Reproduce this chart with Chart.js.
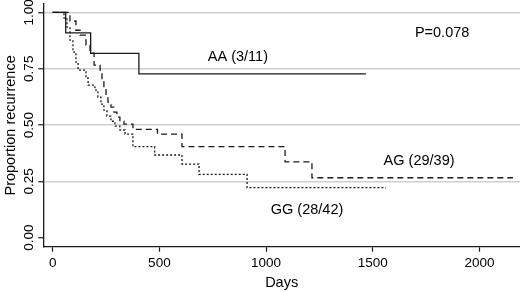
<!DOCTYPE html>
<html>
<head>
<meta charset="utf-8">
<script src="https://cdn.jsdelivr.net/npm/chart.js@4"></script>
<style>
html, body { margin: 0; padding: 0; background: #fff; }
#wrap { width: 520px; height: 292px; position: relative; }
</style>
</head>
<body>
<div id="wrap"><canvas id="km"></canvas></div>
<script>
// Kaplan-Meier steps (day, proportion after the step)
const aaDays = [0, 61, 178, 404, 1468];
const aaSurv = [1.0, 0.909, 0.818, 0.727, 0.727];

const agDays = [0, 81, 109, 128, 156, 175, 194, 222, 231, 240, 250, 259, 273, 287, 301, 315, 334, 376, 491, 606, 1089, 1215, 2157];
const agSurv = [1.0, 0.962, 0.921, 0.899, 0.855, 0.819, 0.766, 0.744, 0.700, 0.664, 0.633, 0.602, 0.580, 0.557, 0.535, 0.517, 0.504, 0.481, 0.460, 0.404, 0.337, 0.266, 0.266];

const ggDays = [0, 53, 67, 81, 95, 109, 119, 156, 166, 198, 212, 226, 240, 254, 273, 292, 315, 339, 376, 478, 606, 686, 911, 1562];
const ggSurv = [1.0, 0.975, 0.935, 0.877, 0.824, 0.779, 0.744, 0.709, 0.677, 0.655, 0.624, 0.593, 0.566, 0.540, 0.517, 0.495, 0.478, 0.460, 0.404, 0.367, 0.327, 0.281, 0.222, 0.222];

const xTicks = [0, 500, 1000, 1500, 2000];
const yTicks = [0, 0.25, 0.5, 0.75, 1];

const groupLabels = ['AA (3/11)', 'AG (29/39)', 'GG (28/42)'];
const pLabel = 'P=0.078';

function toPoints(days, surv) {
  return days.map((d, i) => ({ x: d, y: surv[i] }));
}

const ink = '#1a1a1a';
const fontFamily = '"Liberation Sans", Arial, Helvetica, sans-serif';

// text placed in data coordinates
const notes = [
  { text: groupLabels[0], x: 868, y: 0.802 },
  { text: groupLabels[1], x: 1717, y: 0.340 },
  { text: groupLabels[2], x: 1192, y: 0.123 },
  { text: pLabel, x: 1825, y: 0.908 }
];

const notePlugin = {
  id: 'notes',
  afterDatasetsDraw(chart) {
    const ctx = chart.ctx;
    const xs = chart.scales.x, ys = chart.scales.y;
    ctx.save();
    ctx.fillStyle = '#000';
    ctx.font = '14.5px ' + fontFamily;
    ctx.textAlign = 'center';
    ctx.textBaseline = 'middle';
    notes.forEach(n => {
      ctx.fillText(n.text, xs.getPixelForValue(n.x), ys.getPixelForValue(n.y));
    });
    ctx.restore();
  }
};

const common = {
  fill: false,
  stepped: 'before',
  pointRadius: 0,
  borderWidth: 1.3,
  borderColor: ink,
  tension: 0
};

const config = {
  type: 'line',
  data: {
    datasets: [
      { ...common, label: 'AA', data: toPoints(aaDays, aaSurv) },
      { ...common, label: 'AG', data: toPoints(agDays, agSurv), borderDash: [6, 4] },
      { ...common, label: 'GG', data: toPoints(ggDays, ggSurv), borderDash: [2, 2] }
    ]
  },
  options: {
    responsive: false,
    animation: false,
    devicePixelRatio: 1,
    layout: { padding: { top: 4, right: 0, left: 0, bottom: 0 } },
    plugins: {
      legend: { display: false },
      tooltip: { enabled: false }
    },
    scales: {
      x: {
        type: 'linear',
        min: -44,
        max: 2190,
        afterBuildTicks: s => { s.ticks = xTicks.map(v => ({ value: v })); },
        afterFit: s => { s.height = 45.3; },
        border: { display: true, color: ink, width: 1.3 },
        grid: { drawOnChartArea: false, tickLength: 5, tickColor: ink, tickWidth: 1.2 },
        ticks: {
          color: '#000',
          font: { family: fontFamily, size: 13.5 },
          padding: 3,
          maxRotation: 0,
          minRotation: 0,
          callback: v => String(v)
        },
        title: {
          display: true,
          text: 'Days',
          color: '#000',
          font: { family: fontFamily, size: 14.5 },
          padding: { top: 0, bottom: 0 }
        }
      },
      y: {
        type: 'linear',
        min: -0.04,
        max: 1.037,
        afterBuildTicks: s => { s.ticks = yTicks.map(v => ({ value: v })); },
        afterFit: s => { s.width = 43.3; },
        border: { display: true, color: ink, width: 1.3 },
        grid: {
          color: c => (c.tick && c.tick.value === 0 ? 'rgba(0,0,0,0)' : '#cfcfcf'),
          lineWidth: 1.5,
          tickLength: 5,
          tickColor: ink,
          tickWidth: 1.2
        },
        ticks: {
          color: '#000',
          font: { family: fontFamily, size: 13.5 },
          minRotation: 90,
          maxRotation: 90,
          crossAlign: 'center',
          padding: -4,
          callback: v => v.toFixed(2)
        },
        title: {
          display: true,
          text: 'Proportion recurrence',
          color: '#000',
          font: { family: fontFamily, size: 14.5 },
          padding: { top: 2, bottom: 0 }
        }
      }
    }
  },
  plugins: [notePlugin]
};

const canvas = document.getElementById('km');
canvas.width = 520;
canvas.height = 292;
new Chart(canvas, config);
</script>
</body>
</html>
